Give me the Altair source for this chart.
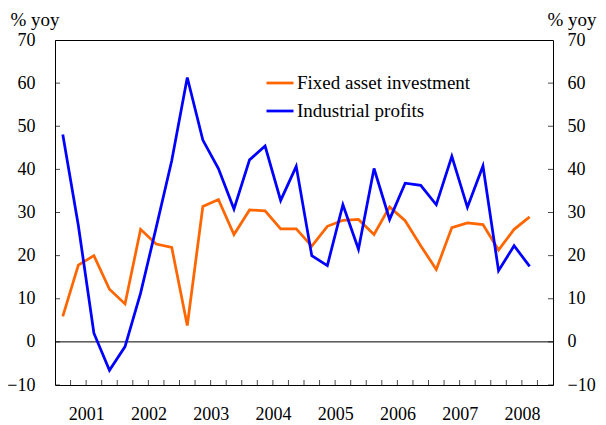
import altair as alt
import pandas as pd

# ---- data ----
quarters = ["2001Q1", "2001Q2", "2001Q3", "2001Q4",
            "2002Q1", "2002Q2", "2002Q3", "2002Q4",
            "2003Q1", "2003Q2", "2003Q3", "2003Q4",
            "2004Q1", "2004Q2", "2004Q3", "2004Q4",
            "2005Q1", "2005Q2", "2005Q3", "2005Q4",
            "2006Q1", "2006Q2", "2006Q3", "2006Q4",
            "2007Q1", "2007Q2", "2007Q3", "2007Q4",
            "2008Q1", "2008Q2", "2008Q3"]
fixed_asset_investment = [5.9, 17.8, 20.0, 12.2, 8.8, 26.1, 22.7, 21.9,
                          3.8, 31.4, 33.0, 24.9, 30.6, 30.4, 26.2, 26.2,
                          22.2, 26.8, 28.2, 28.4, 24.9, 31.3, 28.1, 22.3,
                          16.8, 26.5, 27.6, 27.2, 21.3, 26.1, 29.0]
industrial_profits = [48.1, 27.0, 2.0, -6.6, -1.1, 11.3, 26.5, 42.0,
                      61.3, 46.8, 40.2, 30.8, 42.2, 45.4, 32.8, 40.7,
                      20.0, 17.7, 31.8, 21.5, 40.2, 28.4, 36.8, 36.3,
                      31.8, 43.0, 31.2, 40.8, 16.5, 22.3, 17.5]
series_names = ["Fixed asset investment", "Industrial profits"]
series_colors = ["#FF6600", "#0000FF"]
y_ticks = [-10, 0, 10, 20, 30, 40, 50, 60, 70]
years = [2001, 2002, 2003, 2004, 2005, 2006, 2007, 2008]

FONT = "Liberation Serif"


def qpos(q):
    y, n = q.split("Q")
    return int(y) + (int(n) - 0.5) / 4.0


rows = []
for name, vals in zip(series_names, [fixed_asset_investment, industrial_profits]):
    for q, v in zip(quarters, vals):
        rows.append({"series": name, "t": qpos(q), "v": v})
df = pd.DataFrame(rows)

x_domain = [years[0], years[-1] + 1]
y_domain = [y_ticks[0], y_ticks[-1]]
x_scale = alt.Scale(domain=x_domain, nice=False, zero=False)
y_scale = alt.Scale(domain=y_domain, nice=False, zero=False)

quarter_ticks = pd.DataFrame({"t": [y + k / 4.0 for y in years for k in range(4)
                                    if not (y == years[0] and k == 0)]})
ytick_df = pd.DataFrame({"v": y_ticks})

lines = alt.Chart(df).mark_line(strokeWidth=2.75, clip=True).encode(
    x=alt.X("t:Q", scale=x_scale,
            axis=alt.Axis(values=[y + 0.5 for y in years],
                          labelExpr="floor(datum.value)",
                          title=None, grid=False, domain=False, ticks=False,
                          tickSize=0, labelPadding=20, labelFont=FONT,
                          labelFontSize=18, labelColor="black")),
    y=alt.Y("v:Q", scale=y_scale,
            axis=alt.Axis(orient="left", values=y_ticks, title="% yoy",
                          titleAngle=0, titleX=-45, titleY=-15,
                          titleAlign="left", titleBaseline="alphabetic",
                          titleFont=FONT, titleFontSize=19,
                          titleFontWeight="normal", titleColor="black",
                          grid=False, domain=False, ticks=False, tickSize=0,
                          labelPadding=20, labelFont=FONT, labelFontSize=18,
                          labelColor="black")),
    color=alt.Color("series:N",
                    scale=alt.Scale(domain=series_names, range=series_colors),
                    legend=alt.Legend(orient="none", legendX=210, legendY=28,
                                      title=None, direction="vertical",
                                      symbolType="stroke", symbolSize=729,
                                      symbolStrokeWidth=2.75,
                                      labelFont=FONT, labelFontSize=19,
                                      labelColor="black", labelOffset=2,
                                      labelLimit=0, rowPadding=3)),
    order="t:Q",
)

zero_rule = alt.Chart(pd.DataFrame({"v": [0]})).mark_rule(
    color="black", strokeWidth=1).encode(
    y=alt.Y("v:Q", scale=y_scale, axis=None))

left_ticks = alt.Chart(ytick_df).mark_tick(
    orient="horizontal", size=10, thickness=1, color="black", clip=True).encode(
    y=alt.Y("v:Q", scale=y_scale, axis=None), x=alt.value(0))

right_ticks = alt.Chart(ytick_df).mark_tick(
    orient="horizontal", size=10, thickness=1, color="black", clip=True).encode(
    y=alt.Y("v:Q", scale=y_scale,
            axis=alt.Axis(orient="right", values=y_ticks, title="% yoy",
                          titleAngle=0, titleX=-6, titleY=-15,
                          titleAlign="left", titleBaseline="alphabetic",
                          titleFont=FONT, titleFontSize=19,
                          titleFontWeight="normal", titleColor="black",
                          grid=False, domain=False, ticks=False, tickSize=0,
                          labelPadding=14, labelFont=FONT, labelFontSize=18,
                          labelColor="black")),
    x=alt.value("width"))

bottom_ticks = alt.Chart(quarter_ticks).mark_tick(
    orient="vertical", size=10, thickness=1, color="black", clip=True).encode(
    x=alt.X("t:Q", scale=x_scale, axis=None), y=alt.value("height"))

chart = alt.layer(zero_rule, left_ticks, right_ticks, bottom_ticks, lines).resolve_axis(
    x="independent", y="independent"
).properties(
    width=498, height=345,
    autosize=alt.AutoSizeParams(type="none"),
    padding={"left": 47, "top": 32, "right": 45, "bottom": 40},
    background="white",
).configure_view(stroke="black", strokeWidth=1)

chart.save("out.html", embed_options={"renderer": "svg", "actions": False})
